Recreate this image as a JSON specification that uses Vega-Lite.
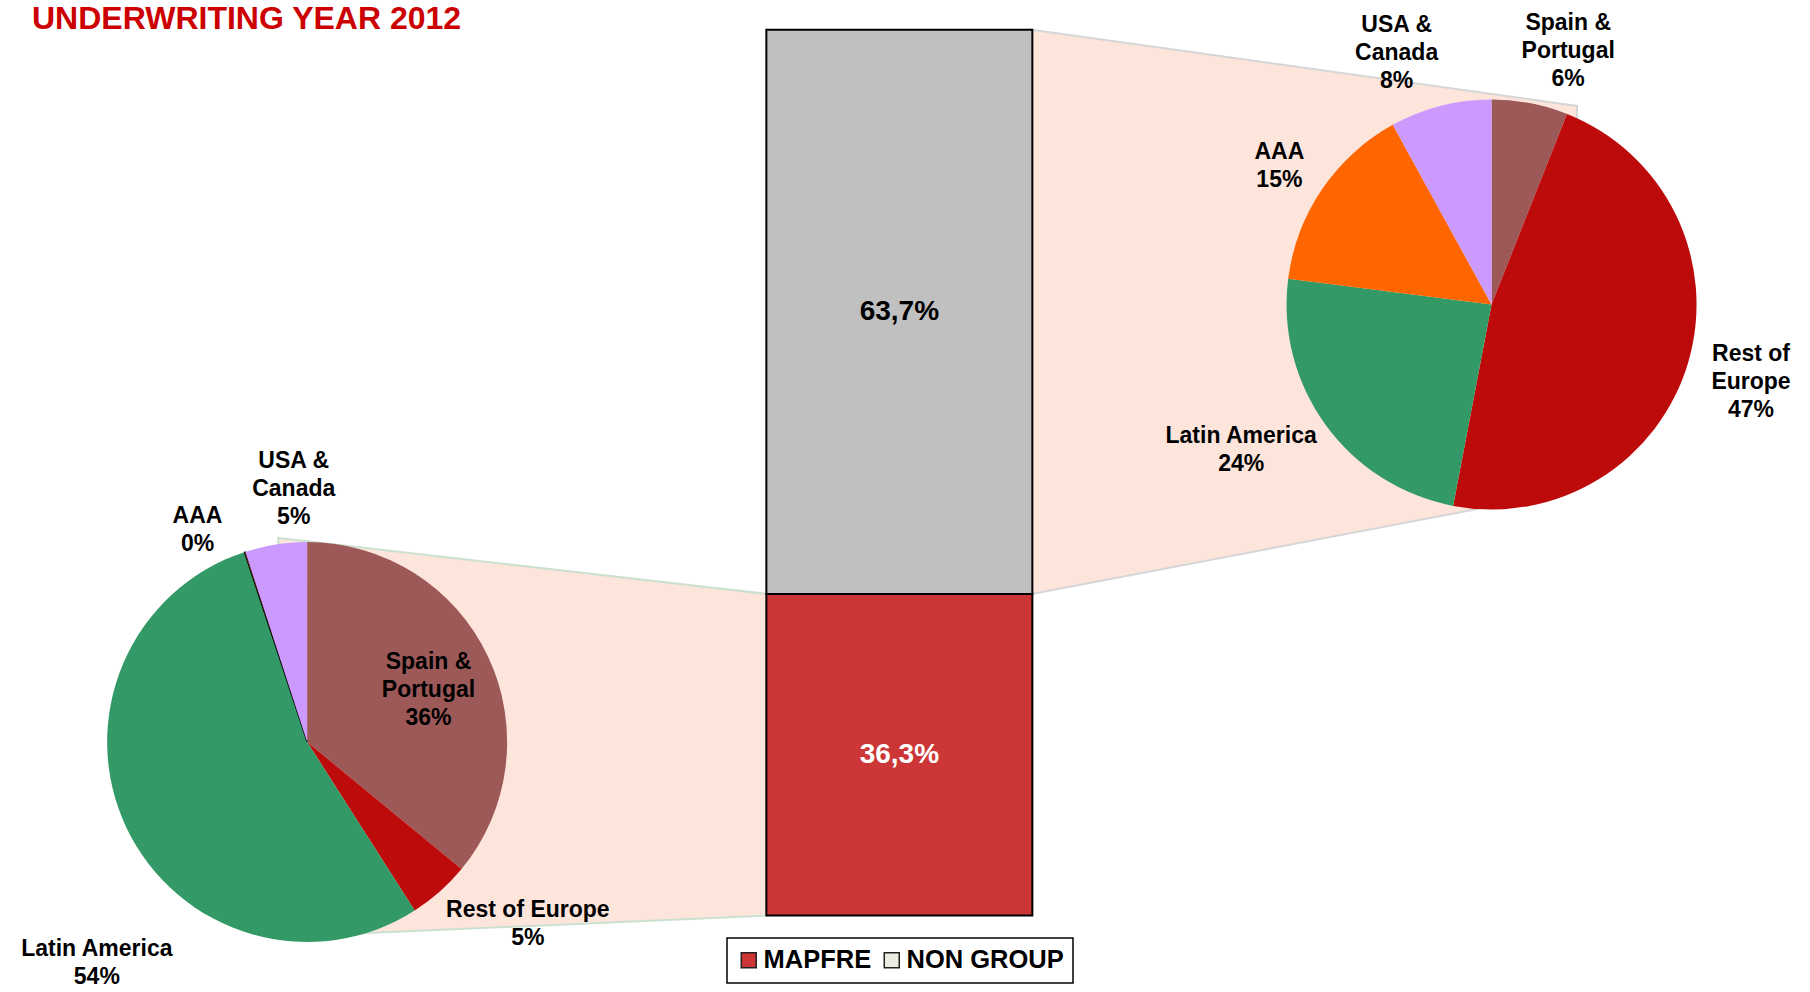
{
  "$schema": "https://vega.github.io/schema/vega-lite/v6.json",
  "width": 1810,
  "height": 992,
  "autosize": "none",
  "padding": 0,
  "background": "white",
  "title": {"text": "UNDERWRITING YEAR 2012", "anchor": "start", "orient": "top", "frame": "group", "offset": 0, "baseline": "top", "dx": 32, "dy": 36, "color": "#cc0000", "font": "Liberation Sans", "fontSize": 32, "fontWeight": "bold"},
  "config": {
    "view": {"stroke": null},
    "locale": {"number": {"decimal": ",", "thousands": ".", "grouping": [3], "currency": ["", " €"]}},
    "text": {"font": "Liberation Sans", "fontSize": 23, "fontWeight": "bold", "lineHeight": 28, "lineBreak": "\n", "align": "center", "baseline": "middle", "color": "black"}
  },
  "datasets": {
    "bar": [
      {"group": "MAPFRE", "share": 0.363},
      {"group": "NON GROUP", "share": 0.637}
    ],
    "pies": [
      {"pie": "MAPFRE", "region": "Spain & Portugal", "order": 1, "share": 0.36, "caption": "Spain &\nPortugal"},
      {"pie": "MAPFRE", "region": "Rest of Europe", "order": 2, "share": 0.05, "caption": "Rest of Europe"},
      {"pie": "MAPFRE", "region": "Latin America", "order": 3, "share": 0.54, "caption": "Latin America"},
      {"pie": "MAPFRE", "region": "AAA", "order": 4, "share": 0.001, "caption": "AAA"},
      {"pie": "MAPFRE", "region": "USA & Canada", "order": 5, "share": 0.05, "caption": "USA &\nCanada"},
      {"pie": "NON GROUP", "region": "Spain & Portugal", "order": 1, "share": 0.06, "caption": "Spain &\nPortugal"},
      {"pie": "NON GROUP", "region": "Rest of Europe", "order": 2, "share": 0.47, "caption": "Rest of\nEurope"},
      {"pie": "NON GROUP", "region": "Latin America", "order": 3, "share": 0.24, "caption": "Latin America\n"},
      {"pie": "NON GROUP", "region": "AAA", "order": 4, "share": 0.15, "caption": "AAA"},
      {"pie": "NON GROUP", "region": "USA & Canada", "order": 5, "share": 0.08, "caption": "USA &\nCanada"}
    ],
    "links": [
      {"link": "MAPFRE", "end": "pie", "xu": 0.9513, "upper": 0.4262, "lower": -0.0243},
      {"link": "MAPFRE", "end": "bar", "xu": 1.7767, "upper": 0.363, "lower": 0},
      {"link": "NON GROUP", "end": "bar", "xu": 2.2233, "upper": 1.0, "lower": 0.363},
      {"link": "NON GROUP", "end": "pie", "xu": 3.1444, "upper": 0.914, "lower": 0.4804}
    ]
  },
  "resolve": {"scale": {"theta": "independent"}},
  "layer": [
    {
      "data": {"name": "links"},
      "mark": {"type": "area", "fill": "#fde5dc", "strokeWidth": 2},
      "encoding": {
        "x": {"field": "xu", "type": "quantitative", "scale": {"domain": [0.4898, 3.5293], "nice": false, "zero": false}, "axis": null},
        "y": {"field": "upper", "type": "quantitative", "scale": {"domain": [-0.08637, 1.0336], "nice": false, "zero": false}, "axis": null},
        "y2": {"field": "lower"},
        "detail": {"field": "link", "type": "nominal"},
        "stroke": {"condition": {"test": "datum.link === 'MAPFRE'", "value": "#cce0cf"}, "value": "#d6d6d6"}
      }
    },
    {
      "data": {"name": "bar"},
      "encoding": {
        "x": {"datum": 2, "type": "quantitative", "scale": {"domain": [0.4898, 3.5293], "nice": false, "zero": false}, "axis": null},
        "y": {"field": "share", "type": "quantitative", "stack": "zero", "scale": {"domain": [-0.08637, 1.0336], "nice": false, "zero": false}, "axis": null},
        "order": {"field": "group", "type": "ordinal", "sort": "ascending"}
      },
      "layer": [
        {
          "mark": {"type": "bar", "orient": "vertical", "width": 266, "stroke": "black", "strokeWidth": 2},
          "encoding": {
            "fill": {
              "condition": {"test": "datum.group === 'NON GROUP'", "value": "#c0c0c0"},
              "field": "group", "type": "nominal",
              "scale": {"domain": ["MAPFRE", "NON GROUP"], "range": ["#cc3636", "#ebebdf"]},
              "legend": {
                "orient": "none", "legendX": 727, "legendY": 938, "direction": "horizontal", "title": null,
                "padding": 9, "strokeColor": "black", "fillColor": "white",
                "labelFont": "Liberation Sans", "labelFontSize": 25.5, "labelFontWeight": "bold", "labelColor": "black",
                "symbolType": "square", "symbolSize": 225, "symbolStrokeColor": "#222222", "symbolStrokeWidth": 1.5,
                "labelOffset": 2, "columnPadding": 7,
                "encode": {
                  "legend": {"update": {"strokeWidth": {"value": 1.5}}}
                }
              }
            }
          }
        },
        {
          "mark": {"type": "text", "fontSize": 28},
          "encoding": {
            "y": {"field": "share", "type": "quantitative", "stack": "zero", "bandPosition": 0.5, "scale": {"domain": [-0.08637, 1.0336], "nice": false, "zero": false}, "axis": null},
            "text": {"field": "share", "type": "quantitative", "format": ".1%"},
            "color": {"condition": {"test": "datum.group === 'MAPFRE'", "value": "white"}, "value": "black"}
          }
        }
      ]
    },
    {
      "data": {"name": "pies"},
      "transform": [
        {"filter": "datum.pie === 'MAPFRE'"},
        {"calculate": "datum.caption + '\\n' + format(datum.share, '.0%')", "as": "label"}
      ],
      "encoding": {
        "x": {"datum": 1, "type": "quantitative", "scale": {"domain": [0.4898, 3.5293], "nice": false, "zero": false}, "axis": null},
        "y": {"datum": 0.1959, "type": "quantitative", "scale": {"domain": [-0.08637, 1.0336], "nice": false, "zero": false}, "axis": null},
        "theta": {"field": "share", "type": "quantitative", "stack": true},
        "order": {"field": "order", "type": "quantitative"}
      },
      "layer": [
        {
          "mark": {"type": "arc", "radius": 200, "strokeWidth": 1},
          "encoding": {
            "color": {"field": "region", "type": "nominal", "legend": null,
              "scale": {"domain": ["Spain & Portugal", "Rest of Europe", "Latin America", "AAA", "USA & Canada"], "range": ["#9d5858", "#bd0b0b", "#339966", "#ff6600", "#cc99ff"]}},
            "stroke": {"condition": {"test": "datum.share < 0.01", "value": "black"}, "value": "transparent"}
          }
        },
        {"mark": {"type": "text", "radius": 132, "dx": 2, "dy": -24},
         "encoding": {"text": {"condition": {"test": "datum.region === 'Spain & Portugal'", "field": "label", "type": "nominal"}, "value": ""}}},
        {"mark": {"type": "text", "radius": 265, "dx": 45, "dy": -30},
         "encoding": {"text": {"condition": {"test": "datum.region === 'Rest of Europe'", "field": "label", "type": "nominal"}, "value": ""}}},
        {"mark": {"type": "text", "radius": 265, "dx": 29, "dy": 93},
         "encoding": {"text": {"condition": {"test": "datum.region === 'Latin America'", "field": "label", "type": "nominal"}, "value": ""}}},
        {"mark": {"type": "text", "radius": 265, "dx": -27, "dy": 26},
         "encoding": {"text": {"condition": {"test": "datum.region === 'AAA'", "field": "label", "type": "nominal"}, "value": ""}}},
        {"mark": {"type": "text", "radius": 265, "dx": 28, "dy": -19},
         "encoding": {"text": {"condition": {"test": "datum.region === 'USA & Canada'", "field": "label", "type": "nominal"}, "value": ""}}}
      ]
    },
    {
      "data": {"name": "pies"},
      "transform": [
        {"filter": "datum.pie === 'NON GROUP'"},
        {"calculate": "datum.caption + '\\n' + format(datum.share, '.0%')", "as": "label"}
      ],
      "encoding": {
        "x": {"datum": 3, "type": "quantitative", "scale": {"domain": [0.4898, 3.5293], "nice": false, "zero": false}, "axis": null},
        "y": {"datum": 0.6898, "type": "quantitative", "scale": {"domain": [-0.08637, 1.0336], "nice": false, "zero": false}, "axis": null},
        "theta": {"field": "share", "type": "quantitative", "stack": true},
        "order": {"field": "order", "type": "quantitative"}
      },
      "layer": [
        {
          "mark": {"type": "arc", "radius": 205},
          "encoding": {
            "color": {"field": "region", "type": "nominal", "legend": null,
              "scale": {"domain": ["Spain & Portugal", "Rest of Europe", "Latin America", "AAA", "USA & Canada"], "range": ["#9d5858", "#bd0b0b", "#339966", "#ff6600", "#cc99ff"]}}
          }
        },
        {"mark": {"type": "text", "radius": 265, "dx": 27, "dy": -21},
         "encoding": {"text": {"condition": {"test": "datum.region === 'Spain & Portugal'", "field": "label", "type": "nominal"}, "value": ""}}},
        {"mark": {"type": "text", "radius": 265, "dx": 5, "dy": -24},
         "encoding": {"text": {"condition": {"test": "datum.region === 'Rest of Europe'", "field": "label", "type": "nominal"}, "value": ""}}},
        {"mark": {"type": "text", "radius": 265, "dx": -36, "dy": -24},
         "encoding": {"text": {"condition": {"test": "datum.region === 'Latin America'", "field": "label", "type": "nominal"}, "value": ""}}},
        {"mark": {"type": "text", "radius": 265, "dx": 7, "dy": -4},
         "encoding": {"text": {"condition": {"test": "datum.region === 'AAA'", "field": "label", "type": "nominal"}, "value": ""}}},
        {"mark": {"type": "text", "radius": 265, "dx": -29, "dy": -23},
         "encoding": {"text": {"condition": {"test": "datum.region === 'USA & Canada'", "field": "label", "type": "nominal"}, "value": ""}}}
      ]
    }
  ]
}
